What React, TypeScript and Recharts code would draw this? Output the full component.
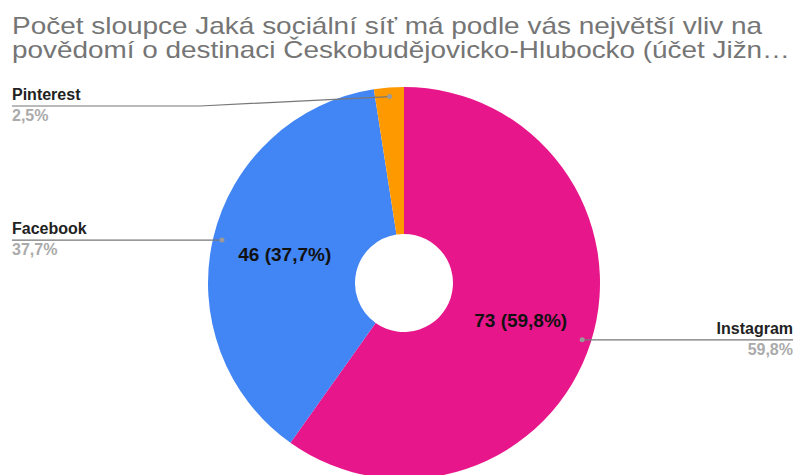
import { PieChart, Pie, Cell } from "recharts";

const categories = ["Instagram", "Facebook", "Pinterest"];
const counts = [73, 46, 3];
const shares = ["59,8%", "37,7%", "2,5%"];
const colors = ["#e8168b", "#4285f4", "#ff9900"];

const titleLines = [
  "Počet sloupce Jaká sociální síť má podle vás největší vliv na",
  "povědomí o destinaci Českobudějovicko-Hlubocko (účet Jižn…",
];
const titleWidths = [750, 778];

const data = categories.map((name, i) => ({ name, value: counts[i], share: shares[i] }));
const total = counts.reduce((a, b) => a + b, 0);

const FONT = "Liberation Sans, Arial, sans-serif";
const RAD = Math.PI / 180;

function renderLabel(props: any) {
  const { cx, cy, midAngle, innerRadius, outerRadius, index } = props;
  const item = data[index];
  const cos = Math.cos(-midAngle * RAD);
  const sin = Math.sin(-midAngle * RAD);
  // inner label
  const ir = (innerRadius + outerRadius) / 2;
  const ix = cx + ir * cos;
  const iy = cy + ir * sin;
  // leader dot
  const dx = cx + (outerRadius - 9) * cos;
  const dy = cy + (outerRadius - 9) * sin;
  const right = cos > 0;
  const lineY = Math.max(dy, cy - outerRadius + 19);
  const endX = right ? 793 : 12;
  const bendX = right ? dx + 40 : 200;
  const showInner = item.value / total > 0.1;
  return (
    <g>
      {showInner && (
        <text
          x={ix}
          y={iy}
          textAnchor="middle"
          dominantBaseline="central"
          fontFamily={FONT}
          fontSize={19}
          fontWeight="bold"
          fill="#111"
        >
          {`${item.value} (${item.share})`}
        </text>
      )}
      <polyline
        points={`${dx},${dy} ${lineY === dy ? endX : bendX},${lineY} ${endX},${lineY}`}
        fill="none"
        stroke="#777"
        strokeWidth={1.2}
      />
      <circle cx={dx} cy={dy} r={2.5} fill="#999" />
      <text
        x={endX}
        y={lineY - 6}
        textAnchor={right ? "end" : "start"}
        fontFamily={FONT}
        fontSize={16}
        fontWeight="bold"
        fill="#222"
      >
        {item.name}
      </text>
      <text
        x={endX}
        y={lineY + 15}
        textAnchor={right ? "end" : "start"}
        fontFamily={FONT}
        fontSize={16}
        fontWeight="bold"
        fill="#aaa"
      >
        {item.share}
      </text>
    </g>
  );
}

export default function App() {
  return (
    <div style={{ position: "absolute", left: 0, top: 0, width: 793, height: 475, background: "#fff", overflow: "hidden" }}>
      <svg width={793} height={70} style={{ position: "absolute", left: 0, top: 0 }}>
        {titleLines.map((t, i) => (
          <text
            key={t}
            x={12}
            y={34 + i * 24}
            fontFamily={FONT}
            fontSize={24}
            fill="#757575"
            textLength={titleWidths[i]}
            lengthAdjust="spacingAndGlyphs"
          >
            {t}
          </text>
        ))}
      </svg>
      <PieChart width={793} height={475} style={{ position: "absolute", left: 0, top: 0 }}>
        <Pie
          data={data}
          dataKey="value"
          nameKey="name"
          cx={399}
          cy={278}
          innerRadius={49}
          outerRadius={196}
          startAngle={90}
          endAngle={-270}
          stroke="none"
          label={renderLabel}
          labelLine={false}
          isAnimationActive={false}
        >
          {data.map((d, i) => (
            <Cell key={d.name} fill={colors[i]} />
          ))}
        </Pie>
      </PieChart>
    </div>
  );
}
